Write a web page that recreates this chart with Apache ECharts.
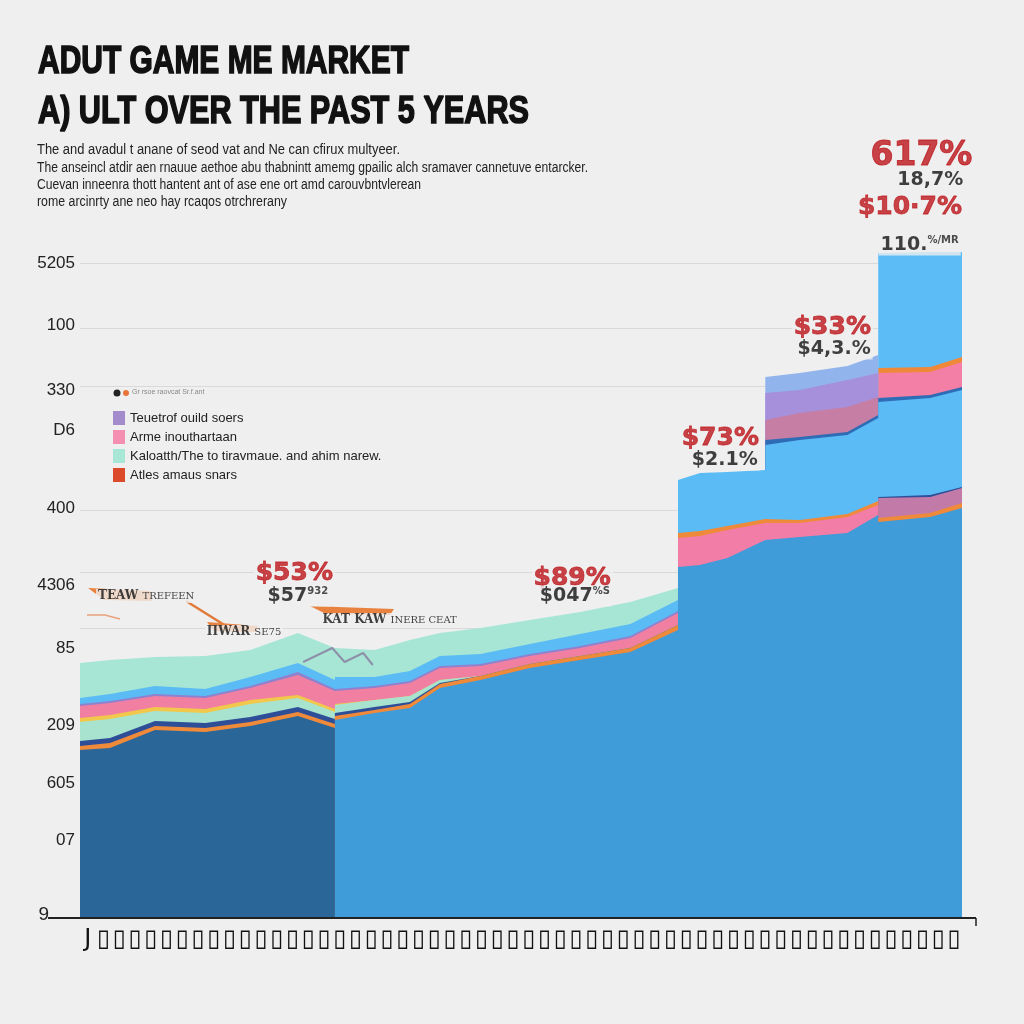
<!DOCTYPE html>
<html><head><meta charset="utf-8">
<script src="https://cdn.jsdelivr.net/npm/echarts@6/dist/echarts.min.js"></script>
<style>html,body{margin:0;padding:0;background:#efefef}#c{width:1024px;height:1024px}</style>
</head><body><div id="c"></div>
<script>
const _ = null;
// x positions of the sampled points (value axis 0..100); repeated x = vertical step
const xs = [0,3.4,8.5,14.2,19.3,24.7,28.9, 28.9,33.4,37.4,40.8,45.4,51,56.7,62.4,67.8, 67.8,70.3,73.4,77.7, 77.7,81.6,87,90.5, 90.5,96.4,100];
// layer thicknesses, bottom to top (null = layer absent there)
const navy       = [168,170,188,186,192,202,190, _,_,_,_,_,_,_,_,_, _,_,_,_, _,_,_,_, _,_,_];
const blue       = [_,_,_,_,_,_,_, 198,205,210,230,238,250,258,266,288, 351,353,360,378, 378,381,385,403, 396,401,410];
const pinkLow    = [_,_,_,_,_,_,_, _,_,_,_,_,_,_,_,_, 29,29,28,17, 18,14,16,10, _,_,_];
const orange     = [4,5,4,4,4,4,4, 4,3,4,4,4,4,4,4,5, 5,5,4,4, 4,3,3,4, 4,4,5];
const roseLow    = [_,_,_,_,_,_,_, _,_,_,_,_,_,_,_,_, _,_,_,_, _,_,_,_, 20,16,15];
const darkBlue   = [5,5,5,5,5,5,5, 3,3,2,1,0,0,0,0,0, _,_,_,_, _,_,_,_, 1,2,1];
const mintLight  = [19,19,10,10,13,9,7, 8,7,6,3,0,0,0,0,0, _,_,_,_, _,_,_,_, _,_,_];
const yellow     = [4,4,4,4,4,3,3, 1,0,0,0,0,0,0,0,0, _,_,_,_, _,_,_,_, _,_,_];
const pinkMid    = [12,12,11,11,12,20,18, 15,12,13,12,10,8,8,10,12, _,_,_,_, _,_,_,_, _,_,_];
const purpleThin = [2,2,2,2,2,3,2, 2,2,2,2,2,2,2,2,2, _,_,_,_, _,_,_,_, _,_,_];
const sky        = [6,7,8,7,9,9,9, 10,9,10,10,10,10,12,12,11, 53,58,54,49, 73,80,79,83, 95,97,97];
const darkBlue2  = [_,_,_,_,_,_,_, _,_,_,_,_,_,_,_,_, _,_,_,_, 5,3,3,3, 4,3,3];
const rose       = [_,_,_,_,_,_,_, _,_,_,_,_,_,_,_,_, _,_,_,_, 20,24,25,18, _,_,_];
const purple     = [_,_,_,_,_,_,_, _,_,_,_,_,_,_,_,_, _,_,_,_, 27,23,27,24, _,_,_];
const lavender   = [_,_,_,_,_,_,_, _,_,_,_,_,_,_,_,_, _,_,_,_, 16,17,14,18, _,_,_];
const pinkHigh   = [_,_,_,_,_,_,_, _,_,_,_,_,_,_,_,_, _,_,_,_, _,_,_,_, 25,23,25];
const orange2    = [_,_,_,_,_,_,_, _,_,_,_,_,_,_,_,_, _,_,_,_, _,_,_,_, 5,5,5];
const skyTop     = [_,_,_,_,_,_,_, _,_,_,_,_,_,_,_,_, _,_,_,_, _,_,_,_, 115,115,105];
const mint       = [35,34,29,33,27,30,32, 27,27,31,23,26,24,22,22,12, _,_,_,_, _,_,_,_, _,_,_];

// grey zig-zag line
const greyX = [25.3,28.6,30.0,32.1,33.2];
const greyY = [256,270,256,265,253];

// axis tick labels
const yTickValues = [3,78,135,193,270,333,410,488,528,593,655];
const yTickLabels = ['9','07','605','209','85','4306','400','D6','330','100','5205'];
const gridValues  = [290,346,408,532,590,655];
const xLabels = 'J▯▯▯▯▯▯▯▯▯▯▯▯▯▯▯▯▯▯▯▯▯▯▯▯▯▯▯▯▯▯▯▯▯▯▯▯▯▯▯▯▯▯▯▯▯▯▯▯▯▯▯▯▯▯▯'.split('');

// texts
const titleLines = ['ADUT GAME ME MARKET', 'A) ULT OVER THE PAST 5 YEARS'];
const subLines = [
  'The and avadul t anane of seod vat and Ne can cfirux multyeer.',
  'The anseincl atdir aen rnauue aethoe abu thabnintt amemg gpailic alch sramaver cannetuve entarcker.',
  'Cuevan inneenra thott hantent ant of ase ene ort amd carouvbntvlerean',
  'rome arcinrty ane neo hay rcaqos otrchrerany'
];

// annotations
const annX    = [24.3,24.7,55.8,56.1,72.6,73.1,85.3,85.5,94.1,95.2,95.4,96.4, 7.5,18.6,35.1];
const annY    = [345,322,340,322,480,458,591,569,711,673,762,738, 322,286,298];
const annMain = ['$53%','$57','$89%','$047','$73%','$2.1%','$33%','$4,3.%','$10·7%','110.','617%','18,7%', 'TEAW ','ΠWAR ','KAT KAW '];
const annSub  = ['','932','','%S','','','','','','%/MR','','', 'TREFEEN','SE75','INERE CEAT'];
const annKind = ['red','blk','red','blk','red','blk','red','blk','red','blk','big','blk', 'call','call','call'];

const layers = [
  {name:'Navy base', data:navy, color:'#2a6698'},
  {name:'Blue base', data:blue, color:'#409bd9'},
  {name:'Pink low', data:pinkLow, color:'#f27da6'},
  {name:'Atles amaus snars', data:orange, color:'#ef8a3b'},
  {name:'Rose low', data:roseLow, color:'#c27ba8'},
  {name:'Dark blue', data:darkBlue, color:'#2e4f98'},
  {name:'Mint light', data:mintLight, color:'#a8e3cf'},
  {name:'Yellow', data:yellow, color:'#f1c84b'},
  {name:'Arme inouthartaan', data:pinkMid, color:'#f07fa2'},
  {name:'Purple thin', data:purpleThin, color:'#8e82cf'},
  {name:'Sky', data:sky, color:'#5bbcf5'},
  {name:'Dark blue 2', data:darkBlue2, color:'#2e6cb6'},
  {name:'Rose', data:rose, color:'#c67ea4'},
  {name:'Teuetrof ouild soers', data:purple, color:'#a68fdb'},
  {name:'Lavender', data:lavender, color:'#92b4ec'},
  {name:'Pink high', data:pinkHigh, color:'#f47fa6'},
  {name:'Orange high', data:orange2, color:'#f0883a'},
  {name:'Sky top', data:skyTop, color:'#5cbdf6'},
  {name:'Kaloatth/The to tiravmaue. and ahim narew.', data:mint, color:'#a7e6d5'}
];

// cumulative tops (painter's order: top layers drawn first)
const running = xs.map(() => 0);
const cumLayers = layers.map(l => {
  const tops = l.data.map((v, i) => { if (v === null) return null; running[i] += v; return running[i]; });
  return {name:l.name, color:l.color, tops};
});
const areaSeries = cumLayers.slice().reverse().map(l => ({
  type:'line', name:l.name, xAxisIndex:0, yAxisIndex:0, z:2,
  symbol:'none', smooth:false, connectNulls:false,
  lineStyle:{width:0, color:l.color}, itemStyle:{color:l.color},
  areaStyle:{color:l.color, opacity:1},
  emphasis:{disabled:true}, silent:true,
  data: xs.map((x, i) => [x, l.tops[i]])
}));

// text fitting helper (horizontal condensing to the reference widths)
const mctx = document.createElement('canvas').getContext('2d');
function fit(text, font, width) { mctx.font = font; return width / mctx.measureText(text).width; }
const titleFont = 'bold 39px "Liberation Sans"';
const subFont = '14px "Liberation Sans"';
const titleW = [371, 491], titleY = [62, 112];
const subW = [363, 551, 384, 250], subY = [150, 168, 185, 202];
const textGraphics = [];
titleLines.forEach((t, i) => textGraphics.push({type:'text', x:38, y:titleY[i], scaleX:fit(t, titleFont, titleW[i]), z:20,
  style:{text:t, font:titleFont, fill:'#111', stroke:'#111', lineWidth:1.6, verticalAlign:'middle', align:'left'}}));
subLines.forEach((t, i) => textGraphics.push({type:'text', x:37, y:subY[i], scaleX:fit(t, subFont, subW[i]), z:20,
  style:{text:t, font:subFont, fill:'#222', verticalAlign:'middle', align:'left'}}));

const chart = echarts.init(document.getElementById('c'), null, {renderer:'canvas'});
const option = {
  backgroundColor:'#efefef',
  animation:false,
  legend:{
    orient:'vertical', left:108, top:406, itemWidth:12, itemHeight:14, itemGap:5,
    icon:'rect', selectedMode:false,
    textStyle:{fontFamily:'Liberation Sans', fontSize:13, color:'#222'},
    data:[
      {name:'Teuetrof ouild soers', itemStyle:{color:'#a48bcb'}},
      {name:'Arme inouthartaan', itemStyle:{color:'#f48fb1'}},
      {name:'Kaloatth/The to tiravmaue. and ahim narew.', itemStyle:{color:'#a8e6d5'}},
      {name:'Atles amaus snars', itemStyle:{color:'#dc4a2c'}}
    ]
  },
  grid:{left:80, right:62, top:118, bottom:106, containLabel:false},
  xAxis:[
    {type:'value', min:0, max:100, show:false},
    {type:'category', data:xLabels, position:'bottom', boundaryGap:true,
     axisLine:{show:false}, axisTick:{show:false}, splitLine:{show:false},
     axisLabel:{interval:0, margin:10, fontFamily:'DejaVu Sans', fontSize:24, color:'#111'}}
  ],
  yAxis:{
    type:'value', min:0, max:800,
    axisLine:{show:false}, axisTick:{show:false}, splitLine:{show:false},
    axisLabel:{
      customValues:yTickValues, margin:5,
      fontFamily:'Liberation Sans', fontSize:17, color:'#222',
      formatter:v => { const i = yTickValues.indexOf(v); if (i < 0) return ''; return i === 0 ? '{l|' + yTickLabels[i] + '}' : yTickLabels[i]; },
      rich:{l:{fontFamily:'Liberation Sans', fontSize:19, color:'#222', padding:[0,26,0,0]}}
    }
  },
  graphic: textGraphics.concat([
    {type:'line', z:20, shape:{x1:48,y1:918,x2:976,y2:918}, style:{stroke:'#222', lineWidth:2}},
    {type:'line', z:20, shape:{x1:976,y1:918,x2:976,y2:926}, style:{stroke:'#222', lineWidth:1.5}},
    {type:'circle', z:20, shape:{cx:117,cy:393,r:3.5}, style:{fill:'#222'}},
    {type:'circle', z:20, shape:{cx:126,cy:393,r:3}, style:{fill:'#e8743a'}},
    {type:'text', z:20, x:132, y:389, style:{text:'Gr rsoe raovcat Sr.f.ant', fontSize:7, fill:'#888', fontFamily:'Liberation Sans'}},
    {type:'polygon', z:20, shape:{points:[[88,588],[150,591],[152,601],[104,600]]}, style:{fill:'#e9823f'}},
    {type:'polyline', z:20, shape:{points:[[186,601],[226,626]]}, style:{stroke:'#e07a3a', lineWidth:2.5}},
    {type:'polygon', z:20, shape:{points:[[207,622],[258,626],[256,632],[214,631]]}, style:{fill:'#e9823f'}},
    {type:'polyline', z:20, shape:{points:[[87,615],[105,615],[120,619]]}, style:{stroke:'#e9a27a', lineWidth:1.5}},
    {type:'polygon', z:20, shape:{points:[[310,606],[394,609],[390,615],[326,614]]}, style:{fill:'#e9823f'}}
  ]),
  series: areaSeries.concat([
    {type:'line', name:'Grid', z:1, data:[], silent:true,
     markLine:{silent:true, symbol:'none', z:1, label:{show:false},
       lineStyle:{color:'#d9d9d9', width:1, type:'solid'},
       data:gridValues.map(v => ({yAxis:v}))}},
    {type:'line', name:'Grey line', z:3, symbol:'none', silent:true,
     lineStyle:{color:'#8d90a8', width:2},
     data:greyX.map((x, i) => [x, greyY[i]])},
    {type:'scatter', name:'Notes', z:30, symbolSize:1, clip:false, silent:true,
     itemStyle:{color:'rgba(0,0,0,0)'},
     label:{show:true, position:'inside', backgroundColor:'#efefef', padding:[1,2],
       formatter:p => { const i = p.dataIndex, k = annKind[i]; return '{' + k + '|' + annMain[i] + '}' + (annSub[i] ? '{' + k + 's|' + annSub[i] + '}' : ''); },
       rich:{
         red:{color:'#bd161b', fontFamily:'DejaVu Sans', fontWeight:'bold', fontSize:25, textBorderColor:'#bd161b', textBorderWidth:0.8},
         big:{color:'#bd161b', fontFamily:'DejaVu Sans', fontWeight:'bold', fontSize:33, textBorderColor:'#bd161b', textBorderWidth:1},
         blk:{color:'#111', fontFamily:'DejaVu Sans', fontWeight:'bold', fontSize:19},
         blks:{color:'#222', fontFamily:'DejaVu Sans', fontWeight:'bold', fontSize:10, verticalAlign:'top'},
         call:{color:'#111', fontFamily:'DejaVu Serif', fontWeight:'bold', fontSize:12},
         calls:{color:'#111', fontFamily:'DejaVu Serif', fontWeight:'normal', fontSize:10}
       }},
     data:annX.map((x, i) => [x, annY[i]])}
  ])
};
chart.setOption(option);
</script></body></html>
